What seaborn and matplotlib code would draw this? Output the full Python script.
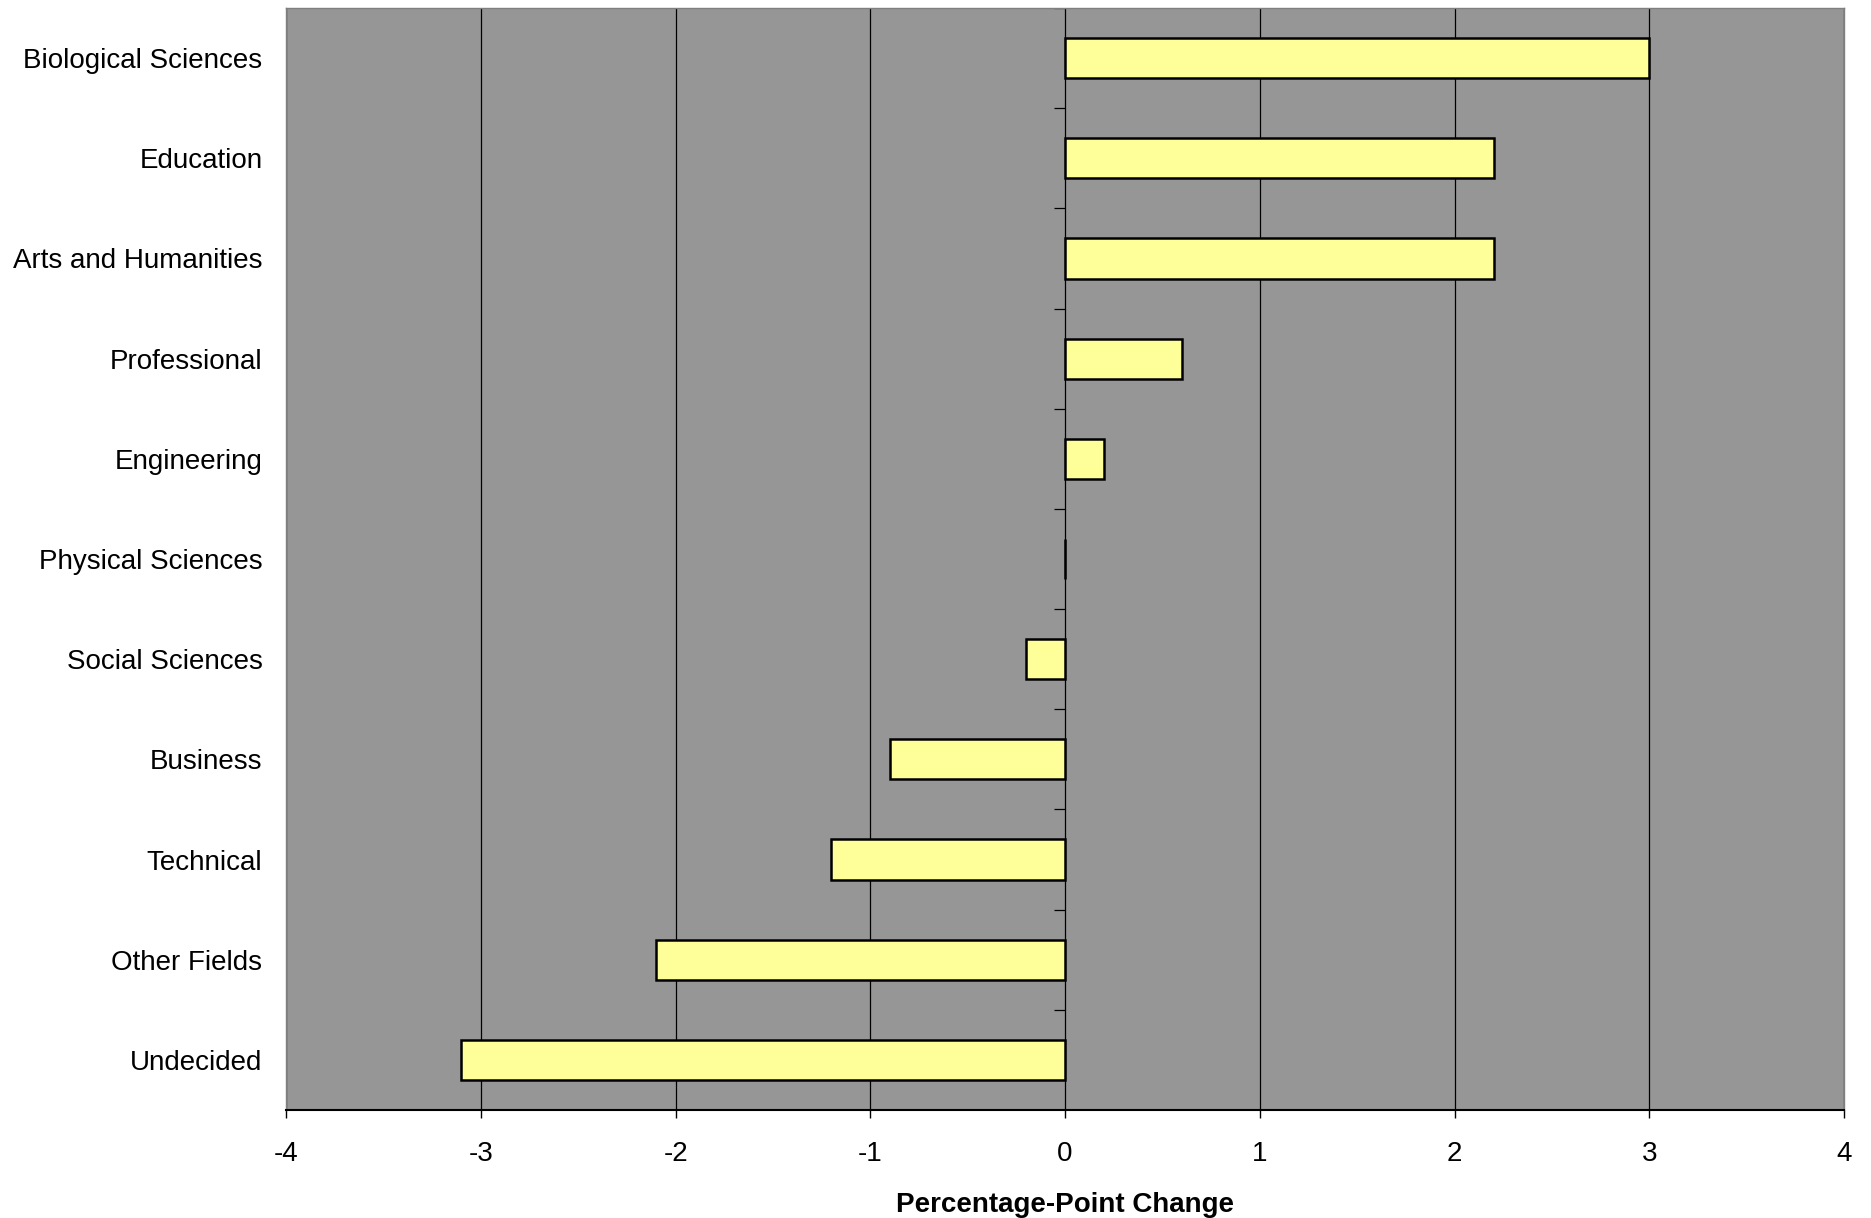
import numpy
import pandas
from matplotlib import pyplot as plt
import seaborn

# data
categories = ['Biological Sciences', 'Education', 'Arts and Humanities', 'Professional',
              'Engineering', 'Physical Sciences', 'Social Sciences', 'Business',
              'Technical', 'Other Fields', 'Undecided']
changes = [3.0, 2.2, 2.2, 0.6, 0.2, 0.0, -0.2, -0.9, -1.2, -2.1, -3.1]
xticks = [-4, -3, -2, -1, 0, 1, 2, 3, 4]

seaborn.set_theme(style='ticks')
plt.rcParams['font.family'] = ['Liberation Sans', 'DejaVu Sans']
plt.rcParams['text.color'] = 'black'
plt.rcParams['axes.labelcolor'] = 'black'
plt.rcParams['xtick.color'] = 'black'
plt.rcParams['ytick.color'] = 'black'

fields = pandas.DataFrame({'Field': categories, 'Change': changes})

fig = plt.figure(figsize=(18.71, 12.18), dpi=100)
ax = fig.add_axes([0.1529, 0.0887, 0.8327, 0.9047])
ax.set_facecolor('#969696')

seaborn.barplot(data=fields, x='Change', y='Field', orient='h', color='#FFFF99',
                saturation=1, edgecolor='black', linewidth=1.8, width=0.4, ax=ax)

ax.set_xlim(-4, 4)
ax.set_ylim(len(categories) - 0.5, -0.5)
ax.set_xticks(xticks)
ax.set_xticklabels([str(t) for t in xticks])
ax.grid(axis='x', color='black', linewidth=0.9)
ax.set_axisbelow(True)

# tick marks at category boundaries on the zero line
bounds = numpy.arange(len(categories) + 1) - 0.5
ax.hlines(bounds, -0.055, 0, color='black', linewidth=0.9, zorder=1)

ax.tick_params(axis='x', direction='out', length=6, width=1, color='black',
               labelsize=20, pad=16)
ax.tick_params(axis='y', length=0, labelsize=20, pad=17)
ax.set_xlabel('Percentage-Point Change', fontsize=20, fontweight='bold', labelpad=18)
ax.set_ylabel('')

for side in ['top', 'right', 'left']:
    ax.spines[side].set_color('#7f7f7f')
    ax.spines[side].set_linewidth(1)
ax.spines['bottom'].set_color('black')
ax.spines['bottom'].set_linewidth(1.5)

plt.savefig('out.png', dpi=100)
